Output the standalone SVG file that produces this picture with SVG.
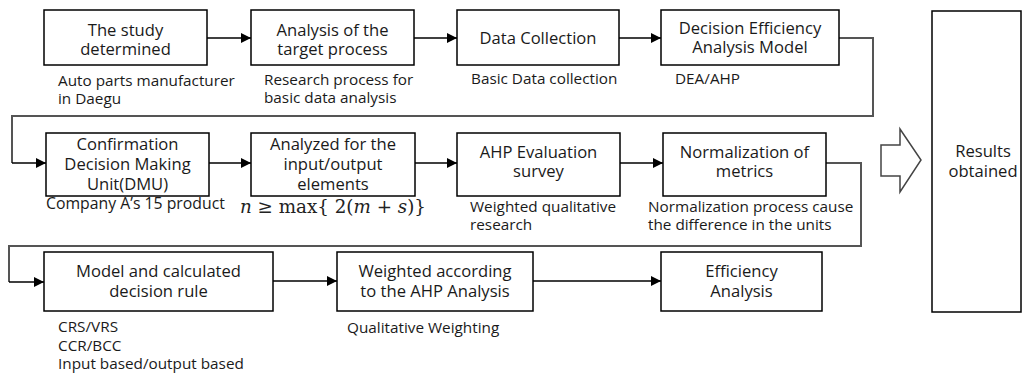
<svg xmlns="http://www.w3.org/2000/svg" width="1022" height="373" viewBox="0 0 1022 373">
<style>
.box{fill:#fff;stroke:#000;stroke-width:1.5}
.t{font-family:"Open Sans","Noto Sans",sans-serif;font-size:16.6px;fill:#1a1a1a;text-anchor:middle}
.a{font-family:"Open Sans","Noto Sans",sans-serif;font-size:15.3px;fill:#1a1a1a}
.c{fill:none;stroke:#000;stroke-width:1.5}
.r{fill:none;stroke:#555;stroke-width:2}
.m{font-family:"DejaVu Serif","Liberation Serif",serif;font-size:18.3px;fill:#222}
</style>
<defs>
<marker id="ah2" viewBox="0 0 10 10" refX="10" refY="5" markerWidth="10" markerHeight="10" orient="auto" markerUnits="userSpaceOnUse">
<path d="M0,0 L10,5 L0,10 z" fill="#000"/>
</marker>
</defs>
<g id="connectors">
<line class="c" x1="207" y1="38" x2="251" y2="38" marker-end="url(#ah2)"/>
<line class="c" x1="414" y1="38" x2="457" y2="38" marker-end="url(#ah2)"/>
<line class="c" x1="619" y1="38" x2="661" y2="38" marker-end="url(#ah2)"/>
<polyline class="r" points="839,38 873,38 873,116 12,116 12,163"/>
<line class="c" x1="12" y1="163" x2="46" y2="163" marker-end="url(#ah2)"/>
<line class="c" x1="209" y1="163" x2="251" y2="163" marker-end="url(#ah2)"/>
<line class="c" x1="415" y1="163" x2="457" y2="163" marker-end="url(#ah2)"/>
<line class="c" x1="620" y1="163" x2="663" y2="163" marker-end="url(#ah2)"/>
<polyline class="r" points="826,163 861,163 861,246 9,246 9,282"/>
<line class="c" x1="9" y1="282" x2="44" y2="282" marker-end="url(#ah2)"/>
<line class="c" x1="273" y1="281" x2="337" y2="281" marker-end="url(#ah2)"/>
<line class="c" x1="533" y1="281" x2="661" y2="281" marker-end="url(#ah2)"/>
<path d="M881,145 L900,145 L900,129 L921,160 L900,192 L900,176 L881,176 Z" fill="#fff" stroke="#444" stroke-width="1.5"/>
</g>
<g id="n1">
<rect class="box" x="44" y="10" width="163" height="55"/>
<text class="t" x="125.5" y="36">The study</text>
<text class="t" x="125.5" y="55">determined</text>
<text class="a" x="58" y="86">Auto parts manufacturer</text>
<text class="a" x="58" y="104">in Daegu</text>
</g>
<g id="n2">
<rect class="box" x="251" y="10" width="163" height="55"/>
<text class="t" x="332.5" y="36">Analysis of the</text>
<text class="t" x="332.5" y="55">target process</text>
<text class="a" x="264" y="85">Research process for</text>
<text class="a" x="264" y="103">basic data analysis</text>
</g>
<g id="n3">
<rect class="box" x="457" y="10" width="162" height="55"/>
<text class="t" x="538" y="44">Data Collection</text>
<text class="a" x="471" y="84">Basic Data collection</text>
</g>
<g id="n4">
<rect class="box" x="661" y="10" width="178" height="55"/>
<text class="t" x="750" y="34">Decision Efficiency</text>
<text class="t" x="750" y="53">Analysis Model</text>
<text class="a" x="675" y="84">DEA/AHP</text>
</g>
<g id="n5">
<rect class="box" x="46" y="133" width="163" height="63"/>
<text class="t" x="127.5" y="150">Confirmation</text>
<text class="t" x="127.5" y="170">Decision Making</text>
<text class="t" x="127.5" y="190">Unit(DMU)</text>
<text class="a" x="46" y="209" style="font-size:15.8px">Company A’s 15 product</text>
</g>
<g id="n6">
<rect class="box" x="251" y="133" width="164" height="63"/>
<text class="t" x="333" y="150">Analyzed for the</text>
<text class="t" x="333" y="170">input/output</text>
<text class="t" x="333" y="190">elements</text>
<text class="m" x="240" y="213"><tspan font-style="italic">n</tspan> ≥ max{ 2(<tspan font-style="italic">m</tspan> + <tspan font-style="italic">s</tspan>)}</text>
</g>
<g id="n7">
<rect class="box" x="457" y="133" width="163" height="63"/>
<text class="t" x="538.5" y="158">AHP Evaluation</text>
<text class="t" x="538.5" y="177">survey</text>
<text class="a" x="470" y="212">Weighted qualitative</text>
<text class="a" x="470" y="230">research</text>
</g>
<g id="n8">
<rect class="box" x="663" y="133" width="163" height="63"/>
<text class="t" x="744.5" y="158">Normalization of</text>
<text class="t" x="744.5" y="177">metrics</text>
<text class="a" x="648" y="212">Normalization process cause</text>
<text class="a" x="648" y="230">the difference in the units</text>
</g>
<g id="n9">
<rect class="box" x="44" y="252" width="229" height="59"/>
<text class="t" x="158.5" y="277">Model and calculated</text>
<text class="t" x="158.5" y="297">decision rule</text>
<text class="a" x="58" y="332">CRS/VRS</text>
<text class="a" x="58" y="351">CCR/BCC</text>
<text class="a" x="58" y="369">Input based/output based</text>
</g>
<g id="n10">
<rect class="box" x="337" y="252" width="196" height="59"/>
<text class="t" x="435" y="277">Weighted according</text>
<text class="t" x="435" y="297">to the AHP Analysis</text>
<text class="a" x="347" y="333">Qualitative Weighting</text>
</g>
<g id="n11">
<rect class="box" x="661" y="252" width="161" height="59"/>
<text class="t" x="741.5" y="277">Efficiency</text>
<text class="t" x="741.5" y="297">Analysis</text>
</g>
<g id="n12">
<rect class="box" x="932" y="11" width="89" height="301"/>
<text class="t" x="983" y="157">Results</text>
<text class="t" x="983" y="177">obtained</text>
</g>
</svg>
